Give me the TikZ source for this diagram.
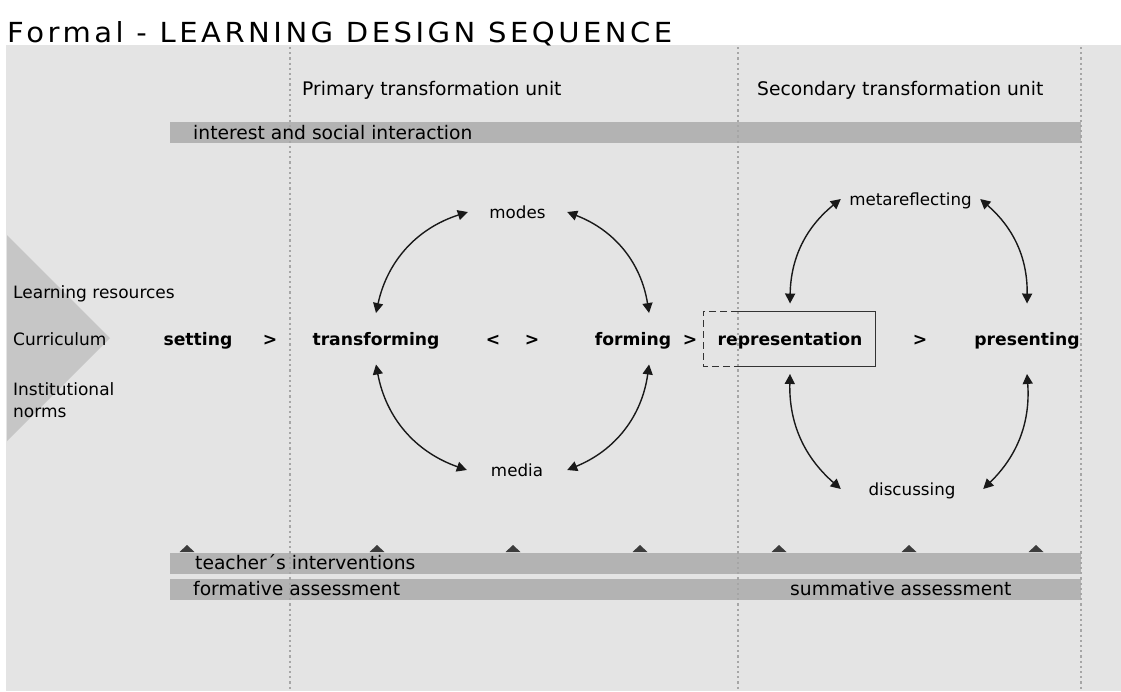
\documentclass[tikz,border=0pt]{standalone}
\usepackage{fontspec}
\setmainfont{DejaVu Sans}
\newfontfamily\titlefont[LetterSpace=12]{DejaVu Sans}
\usetikzlibrary{positioning,arrows.meta}
\definecolor{panel}{HTML}{E4E4E4}
\definecolor{band}{HTML}{B3B3B3}
\definecolor{wedge}{HTML}{C6C6C6}
\definecolor{dots}{HTML}{A6A6A6}
\definecolor{tick}{HTML}{3C3C3C}
\begin{document}
\begin{tikzpicture}[x=1pt, y=-1pt,
  stage/.style={font=\bfseries\fontsize{17.2}{20}\selectfont, inner sep=0pt, text height=12.5pt, text depth=0pt, anchor=base},
  head/.style={font=\fontsize{18.7}{22}\selectfont, inner sep=0pt, anchor=base west},
  side/.style={font=\fontsize{17}{22}\selectfont, inner sep=0pt, anchor=base west},
  loop/.style={font=\fontsize{16.7}{20}\selectfont, inner sep=0pt, text height=12pt, text depth=0pt},
  cyc/.style={{Triangle[length=10pt,width=10pt]}-{Triangle[length=10pt,width=10pt]}, line width=1.4pt, black!90},
  sep/.style={dots, line width=2.4pt, dash pattern=on 2.2pt off 3pt},
  bar/.style={fill=band}]

\useasboundingbox (0,0) rectangle (1121,691);
\fill[panel] (6,45) rectangle (1121,691);
\node[anchor=base west, inner sep=0pt] (title) at (7,42) {\resizebox{665pt}{21pt}{\titlefont\fontsize{28}{30}\selectfont Formal - LEARNING DESIGN SEQUENCE}};

% inputs wedge
\fill[wedge] (7,235) -- (110,338) -- (7,441) -- cycle;

% bands
\fill[bar] (170,122) rectangle (1081,143);
\fill[bar] (170,553) rectangle (1081,574);
\fill[bar] (170,579) rectangle (1081,600);

% intervention ticks
\foreach \x in {187,377,513,640,779,909,1036}
  \fill[tick] (\x-7.5,552) -- (\x,545) -- (\x+7.5,552) -- cycle;

% unit borders
\foreach \x in {290,738,1081}
  \draw[sep] (\x,47) -- (\x,691);

\node[head] (primary) at (302,95) {Primary transformation unit};
\node[head] (secondary) at (757,95) {Secondary transformation unit};
\node[head] (interest) at (193,139) {interest and social interaction};
\node[head] (teacher) at (195,569) {teacher´s interventions};
\node[head] (formative) at (193,595) {formative assessment};
\node[head] (summative) at (790,595) {summative assessment};

\node[side] (resources) at (13,298) {Learning resources};
\node[side] (curriculum) at (13,345) {Curriculum};
\node[side] (institutional) at (13,395) {Institutional};
\node[side] (norms) at (13,417) {norms};

% sequence
\node[stage] (setting) at (198,345) {setting};
\node[stage] (gt1) at (270,345) {>};
\node[stage, minimum height=51pt] (transforming) at (376,345) {transforming};
\node[stage] (lt) at (493,345) {<};
\node[stage] (gt2) at (532,345) {>};
\node[stage, minimum height=51pt] (forming) at (633,345) {forming};
\node[stage] (gt3) at (690,345) {>};
\node[stage, minimum height=70pt] (representation) at (790,345) {representation};
\node[stage] (gt4) at (920,345) {>};
\node[stage, minimum height=70pt] (presenting) at (1027,345) {presenting};

\draw[line width=1pt, black!80] (738,311) -- (875,311) -- (875,366) -- (738,366);
\draw[line width=1pt, black!80, dash pattern=on 7pt off 4pt] (738,311) -- (703,311) -- (703,366) -- (738,366);

\node[loop, minimum width=99pt] (modes) at (517.5,212) {modes};
\node[loop, minimum width=100pt] (media) at (517,470) {media};
\node[loop, minimum width=139pt] (metareflecting) at (910.5,199) {metareflecting};
\node[loop, minimum width=142pt] (discussing) at (912,489) {discussing};

\draw[cyc] (transforming.north) to[bend left=30] (modes.west);
\draw[cyc] (modes.east) to[bend left=30] (forming.58);
\draw[cyc] (transforming.south) to[bend right=30] (media.west);
\draw[cyc] (media.east) to[bend right=30] (forming.-58);

\draw[cyc] (representation.north) to[bend left=25] (metareflecting.west);
\draw[cyc] (metareflecting.east) to[bend left=25] (presenting.north);
\draw[cyc] (representation.south) to[bend right=25] (discussing.west);
\draw[cyc] (discussing.east) to[bend right=25] (presenting.south);
\end{tikzpicture}
\end{document}
